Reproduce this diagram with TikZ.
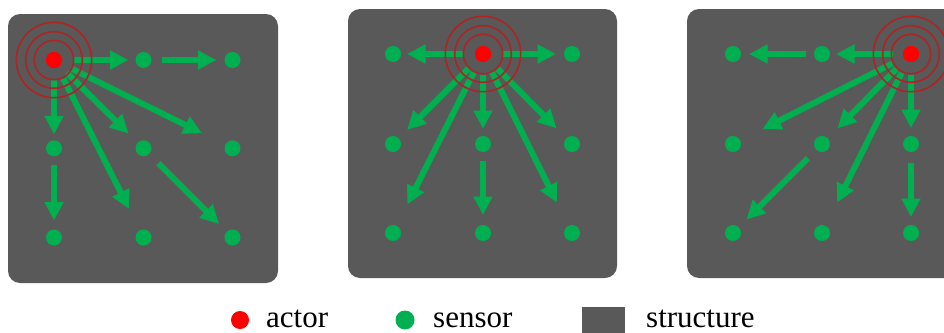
\documentclass[tikz,border=0pt]{standalone}
\usepackage{fontspec}
\setmainfont{Liberation Serif}
\usetikzlibrary{arrows.meta}

\definecolor{panelgray}{HTML}{595959}
\definecolor{sgreen}{HTML}{00B050}
\definecolor{ripplered}{RGB}{172,36,36}

\tikzset{
  panel/.style={fill=panelgray, rounded corners=12pt},
  sensor/.style={circle, fill=sgreen, minimum size=16pt, inner sep=0pt},
  actor/.style={circle, fill=red, minimum size=16pt, inner sep=0pt},
  flow/.style={draw=sgreen, line width=6pt, -{Triangle[width=18pt,length=18.5pt]}},
  ripple/.style={draw=ripplered, line width=1.6pt},
  legendtext/.style={anchor=base west, inner sep=0pt, font=\fontsize{31}{36}\selectfont}
}

\begin{document}
\begin{tikzpicture}[x=1pt, y=-1pt]
\clip (0,0) rectangle (944,332);

% structures
\fill[panel] (8,14) rectangle (278,283);
\fill[panel] (348,9) rectangle (617,278);
\fill[panel] (687,9) rectangle (957,278);

% panel 1: actor in the top-left corner
\node[actor] (a1) at (54,60) {};
\foreach \n/\x/\y in {12/143.5/60, 13/232.5/60, 21/54/148.3, 22/143.5/148.3, 23/232.5/148.3,
                      31/54/237.5, 32/143.5/237.5, 33/232.5/237.5}
  \node[sensor] (p1-\n) at (\x,\y) {};

% panel 2: actor in the top middle
\node[actor] (a2) at (483,54) {};
\foreach \n/\x/\y in {11/393/54, 13/572/54, 21/393/144, 22/483/144, 23/572/144,
                      31/393/233, 32/483/233, 33/572/233}
  \node[sensor] (p2-\n) at (\x,\y) {};

% panel 3: actor in the top-right corner
\node[actor] (a3) at (911,54) {};
\foreach \n/\x/\y in {11/733/54, 12/822/54, 21/733/144, 22/822/144, 23/911/144,
                      31/733/233, 32/822/233, 33/911/233}
  \node[sensor] (p3-\n) at (\x,\y) {};

% propagation, panel 1
\draw[flow, shorten <=19pt, shorten >=15pt] (a1.center) -- (p1-12.center);
\draw[flow, shorten <=18pt, shorten >=16pt] (p1-12.center) -- (p1-13.center);
\draw[flow, shorten <=19pt, shorten >=14pt] (a1.center) -- (p1-21.center);
\draw[flow, shorten <=17pt, shorten >=17pt] (p1-21.center) -- (p1-31.center);
\draw[flow, shorten <=18pt, shorten >=21pt] (a1.center) -- (p1-22.center);
\draw[flow, shorten <=20pt, shorten >=34pt] (a1.center) -- (p1-23.center);
\draw[flow, shorten <=21pt, shorten >=32pt] (a1.center) -- (p1-32.center);
\draw[flow, shorten <=21pt, shorten >=19pt] (p1-22.center) -- (p1-33.center);

% propagation, panel 2
\draw[flow, shorten <=20pt, shorten >=14pt] (a2.center) -- (p2-11.center);
\draw[flow, shorten <=19pt, shorten >=16pt] (a2.center) -- (p2-13.center);
\draw[flow, shorten <=20pt, shorten >=20pt] (a2.center) -- (p2-21.center);
\draw[flow, shorten <=20pt, shorten >=32pt] (a2.center) -- (p2-31.center);
\draw[flow, shorten <=21pt, shorten >=15pt] (a2.center) -- (p2-22.center);
\draw[flow, shorten <=17pt, shorten >=18pt] (p2-22.center) -- (p2-32.center);
\draw[flow, shorten <=21pt, shorten >=22pt] (a2.center) -- (p2-23.center);
\draw[flow, shorten <=19pt, shorten >=34pt] (a2.center) -- (p2-33.center);

% propagation, panel 3
\draw[flow, shorten <=18pt, shorten >=14pt] (a3.center) -- (p3-12.center);
\draw[flow, shorten <=16pt, shorten >=16pt] (p3-12.center) -- (p3-11.center);
\draw[flow, shorten <=21pt, shorten >=16pt] (a3.center) -- (p3-23.center);
\draw[flow, shorten <=19pt, shorten >=16pt] (p3-23.center) -- (p3-33.center);
\draw[flow, shorten <=21pt, shorten >=22pt] (a3.center) -- (p3-22.center);
\draw[flow, shorten <=21pt, shorten >=33pt] (a3.center) -- (p3-21.center);
\draw[flow, shorten <=21pt, shorten >=34pt] (a3.center) -- (p3-32.center);
\draw[flow, shorten <=20pt, shorten >=19pt] (p3-22.center) -- (p3-31.center);

% ripples around each actor
\foreach \a in {a1,a2,a3}
  \foreach \r in {19.7,28.3,37.7}
    \draw[ripple] (\a.center) circle[radius=\r pt];

% actors on top
\foreach \a in {a1,a2,a3}
  \fill[red] (\a.center) circle[radius=8pt];

% legend
\node[actor, minimum size=18pt] (la) at (240,320) {};
\node[legendtext] (lta) at (266,327) {actor};
\node[sensor, minimum size=19pt] (ls) at (405,320) {};
\node[legendtext] (lts) at (433,327) {sensor};
\fill[panelgray] (582,307) rectangle (625,340);
\node[legendtext] (ltst) at (646,327) {structure};
\end{tikzpicture}
\end{document}
